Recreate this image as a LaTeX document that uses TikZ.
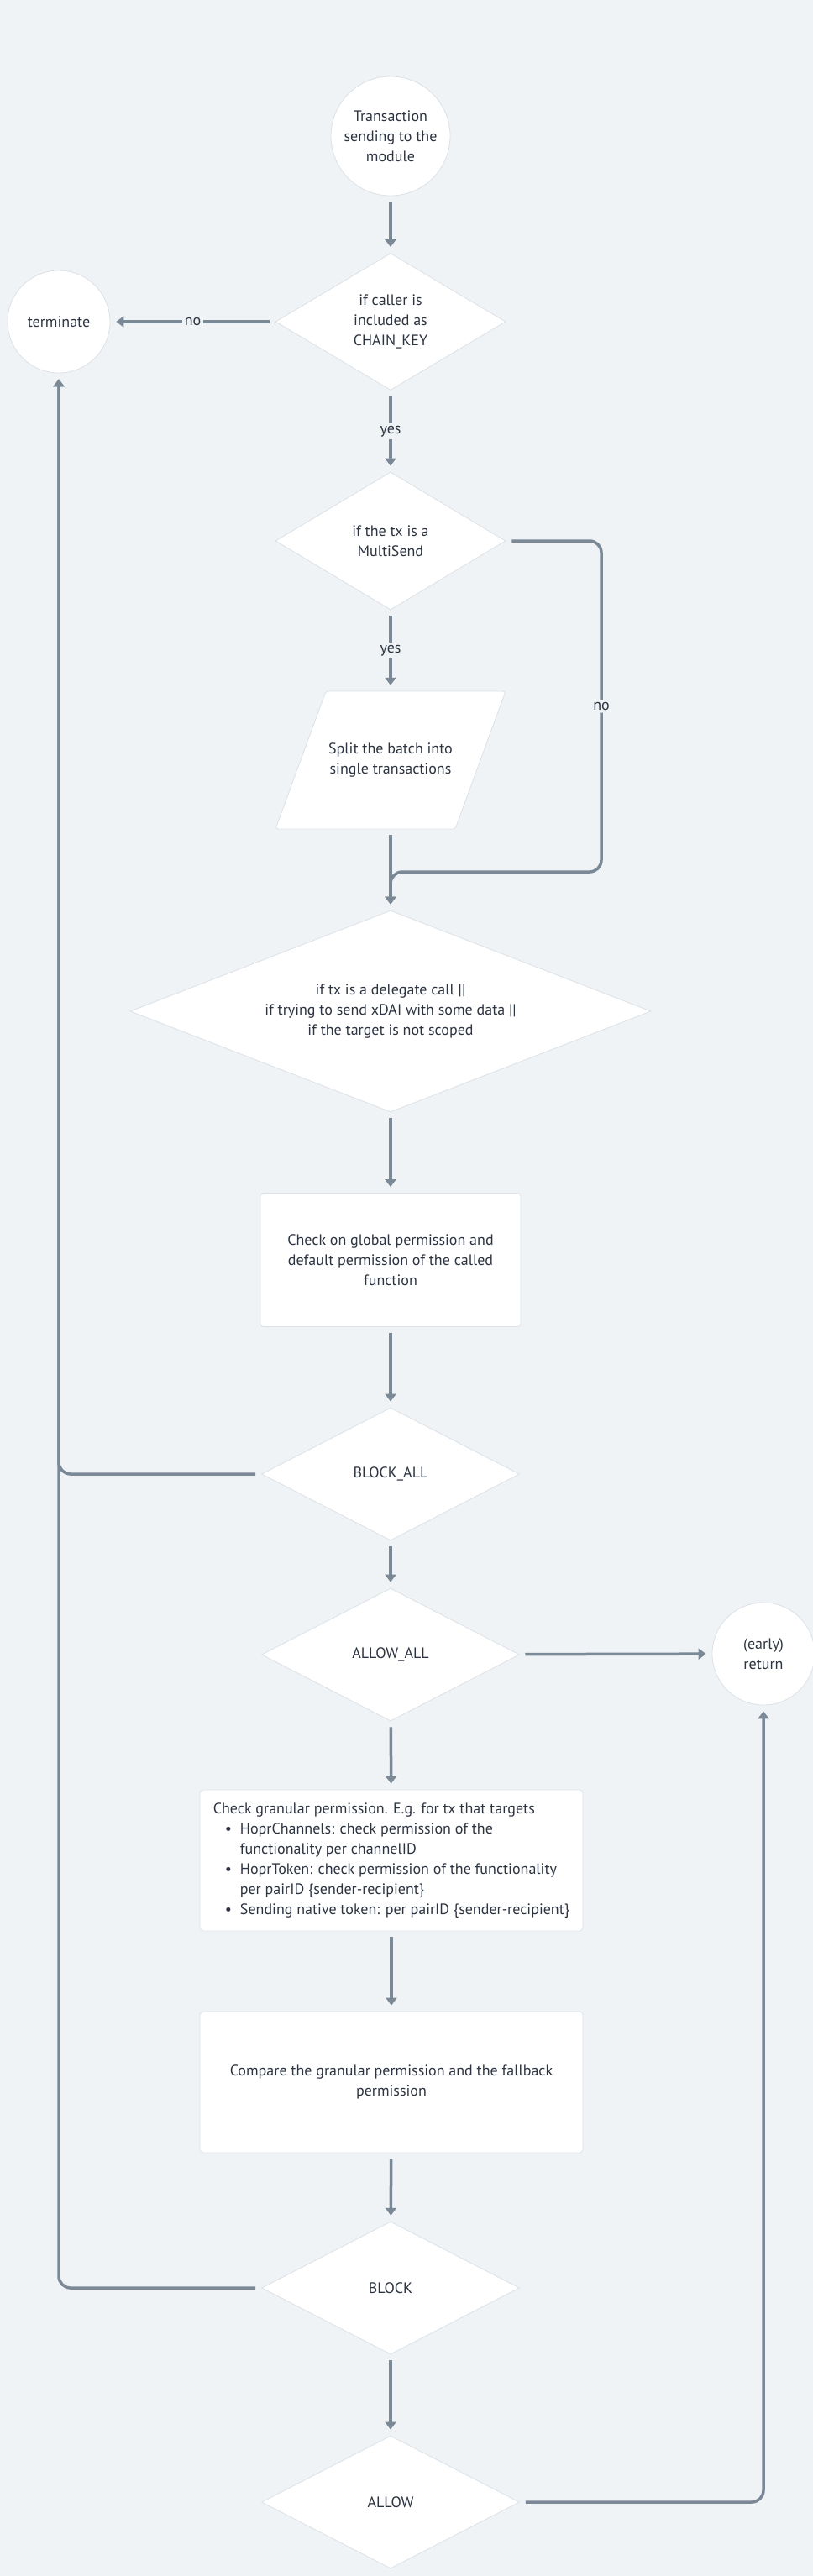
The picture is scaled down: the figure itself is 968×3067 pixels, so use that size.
\documentclass[tikz,border=0pt]{standalone}
\usepackage{fontspec}
\setmainfont{PT Sans}
\usetikzlibrary{shapes.geometric,arrows.meta}

\definecolor{bgcol}{HTML}{EFF3F6}
\definecolor{linecol}{HTML}{7B8896}
\definecolor{txtcol}{HTML}{2D3441}
\definecolor{edgecol}{HTML}{DCE1E6}

\tikzset{
  box/.style={draw=edgecol, line width=0.8pt, fill=white, text=txtcol, align=center, inner sep=0pt},
  roundbox/.style={box, circle},
  rectbox/.style={box, rectangle, rounded corners=4pt},
  decision/.style={box, diamond},
  flow/.style={draw=linecol, line width=3.5pt, -{Triangle[width=13pt,length=9pt]}, shorten <=7pt, shorten >=7pt},
  lbl/.style={fill=bgcol, text=txtcol, inner sep=3pt}
}

\begin{document}
\begin{tikzpicture}[x=1pt,y=-1pt,font=\fontsize{18}{24}\selectfont]

\useasboundingbox[fill=bgcol] (0,0) rectangle (968,3067);

\def\xc{465}
\def\rside{716}
\def\merge{1038}
\def\slant{30}

% start and the two exits
\node[roundbox, minimum size=142pt] (start) at (\xc,162) {Transaction\\sending to the\\module};
\node[roundbox, minimum size=122pt] (term) at (70,383) {terminate};
\node[roundbox, minimum size=122pt] (early) at (909,1969) {(early)\\return};

% checks
\node[decision, aspect=1.68, minimum width=274pt, minimum height=163pt] (caller) at (\xc,383) {if caller is\\included as\\CHAIN\_KEY};
\node[decision, aspect=1.68, minimum width=274pt, minimum height=164pt] (multi) at (\xc,644) {if the tx is a\\MultiSend};
\path[box, rounded corners=3pt] (\xc,823) ++(-107,0) ++(\slant,0) -- ++(214,0) -- ++(-60,164) -- ++(-214,0) -- cycle;
\node[text=txtcol, align=center, minimum width=214pt, minimum height=164pt, inner sep=0pt] (split) at (\xc,905)
  {Split the batch into\\single transactions};
\node[decision, aspect=2.58, minimum width=620pt, minimum height=240pt] (scope) at (\xc,1204)
  {if tx is a delegate call ||\\if trying to send xDAI with some data ||\\if the target is not scoped};
\node[rectbox, minimum width=310pt, minimum height=159pt] (global) at (\xc,1500)
  {Check on global permission and\\default permission of the called\\function};
\node[decision, aspect=1.94, minimum width=307pt, minimum height=158pt] (blockall) at (\xc,1755) {BLOCK\_ALL};
\node[decision, aspect=1.94, minimum width=307pt, minimum height=158pt] (allowall) at (\xc,1970) {ALLOW\_ALL};
\node[rectbox, minimum width=456pt, minimum height=168pt, align=left] (granular) at (466,2215)
  {Check granular permission. E.g. for tx that targets\\
   \hspace*{14pt}\textbullet\hspace{10pt}HoprChannels: check permission of the\\
   \hspace*{32pt}functionality per channelID\\
   \hspace*{14pt}\textbullet\hspace{10pt}HoprToken: check permission of the functionality\\
   \hspace*{32pt}per pairID \{sender-recipient\}\\
   \hspace*{14pt}\textbullet\hspace{10pt}Sending native token: per pairID \{sender-recipient\}};
\node[rectbox, minimum width=456pt, minimum height=168pt] (compare) at (466,2479)
  {Compare the granular permission and the fallback\\permission};
\node[decision, aspect=1.94, minimum width=307pt, minimum height=158pt] (block) at (\xc,2724) {BLOCK};
\node[decision, aspect=1.94, minimum width=307pt, minimum height=158pt] (allow) at (\xc,2979) {ALLOW};

% straight arrows down the middle
\foreach \a/\b in {start/caller, split/scope, scope/global, global/blockall, blockall/allowall,
                   allowall/granular, granular/compare, compare/block, block/allow}
  \draw[flow] (\a) -- (\b);

\draw[flow] (caller) -- node[lbl] {yes} (multi);
\draw[flow] (multi) -- node[lbl] {yes} (split);
\draw[flow] (caller) -- node[lbl] {no} (term);
\draw[flow] (allowall) -- (early);

% side branches
\draw[flow, rounded corners=14pt] (multi.east) -| node[lbl, pos=0.75] {no} (\rside,\merge) -- (\xc,\merge) -- (scope.north);
\draw[flow, rounded corners=14pt] (blockall.west) -| (term.south);
\draw[flow, rounded corners=14pt] (block.west) -| (term.south);
\draw[flow, rounded corners=14pt] (allow.east) -| (early.south);

\end{tikzpicture}
\end{document}
